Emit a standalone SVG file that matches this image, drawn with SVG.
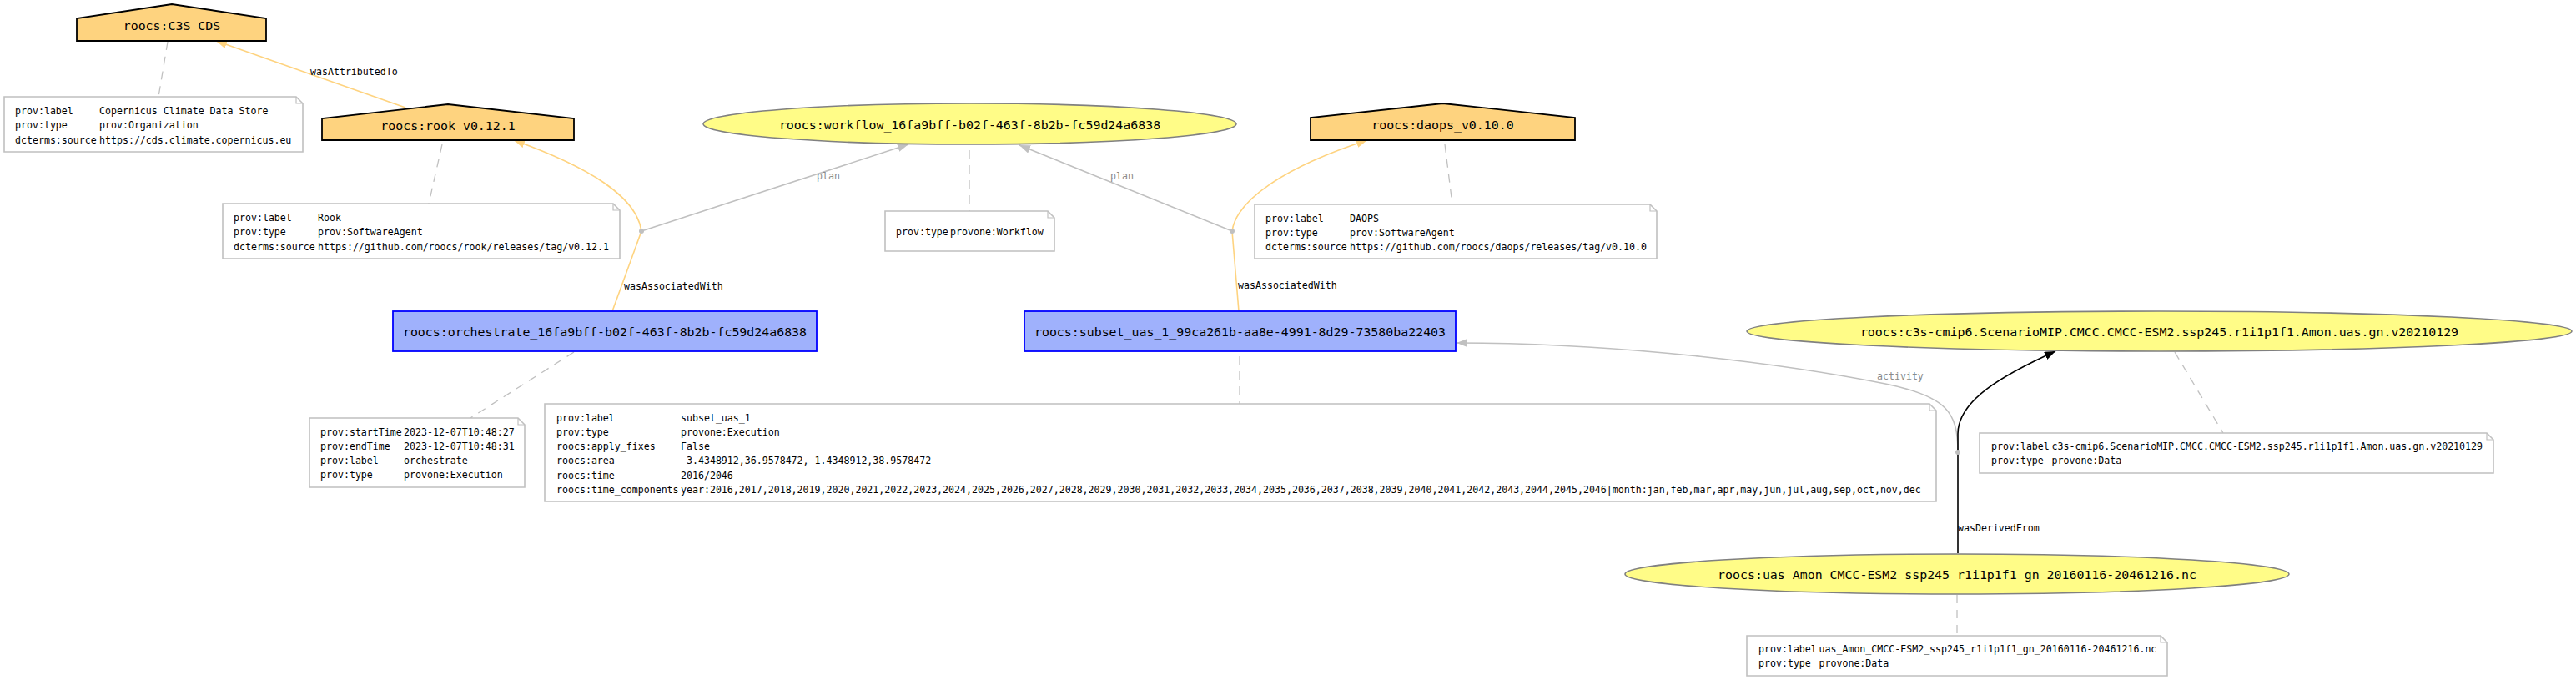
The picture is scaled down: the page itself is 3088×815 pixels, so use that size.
<svg xmlns="http://www.w3.org/2000/svg" width="3088" height="815" viewBox="0 0 3088 815">
<defs>
<style>
text{font-family:"DejaVu Sans Mono","Liberation Mono",monospace;}
.nl{font-size:14.9px;fill:#000;text-anchor:middle;}
.tx{font-size:11.6px;fill:#000;}
.el{font-size:11.6px;fill:#000;}
.elg{font-size:11.6px;fill:#8c8c8c;}
.agent{fill:#FED37F;stroke:#000;stroke-width:1.8;}
.entity{fill:#FFFC87;stroke:#808080;stroke-width:1.6;}
.activity{fill:#9FB1FC;stroke:#0000FF;stroke-width:1.8;}
.note{fill:#fff;stroke:#c0c0c0;stroke-width:1.6;}
.fold{fill:none;stroke:#c0c0c0;stroke-width:1.2;}
.ann{fill:none;stroke:#c0c0c0;stroke-width:1.3;stroke-dasharray:10,8;}
.eo{fill:none;stroke:#FED37F;stroke-width:1.6;}
.eg{fill:none;stroke:#c0c0c0;stroke-width:1.6;}
.eb{fill:none;stroke:#000;stroke-width:1.6;}
.dot{fill:#c0c0c0;}
</style>
<marker id="mO" markerUnits="userSpaceOnUse" markerWidth="14" markerHeight="11" refX="13" refY="5" orient="auto"><path d="M0,0 L13,5 L0,10 Z" fill="#FED37F"/></marker>
<marker id="mG" markerUnits="userSpaceOnUse" markerWidth="14" markerHeight="11" refX="13" refY="5" orient="auto"><path d="M0,0 L13,5 L0,10 Z" fill="#c0c0c0"/></marker>
<marker id="mB" markerUnits="userSpaceOnUse" markerWidth="14" markerHeight="11" refX="13" refY="5" orient="auto"><path d="M0,0 L13,5 L0,10 Z" fill="#000"/></marker>
</defs>
<rect width="3088" height="815" fill="#fff"/>

<g id="connectors">
<line class="ann" x1="201" y1="50" x2="190" y2="116"/>
<line class="ann" x1="530" y1="173" x2="514" y2="244"/>
<line class="ann" x1="1162" y1="180" x2="1162" y2="253"/>
<line class="ann" x1="1732" y1="173" x2="1741" y2="245"/>
<line class="ann" x1="688" y1="422" x2="564" y2="501"/>
<line class="ann" x1="1486" y1="427" x2="1486" y2="484"/>
<line class="ann" x1="2607" y1="422" x2="2665" y2="519"/>
<line class="ann" x1="2346" y1="713" x2="2346" y2="762"/>

<path class="eo" d="M486,129 L259,49" marker-end="url(#mO)"/>
<text class="el" x="372" y="90">wasAttributedTo</text>

<path class="eo" d="M734,373 L769,277"/>
<path class="eo" d="M769,277 C763,235 705,200 616,168" marker-end="url(#mO)"/>
<text class="el" x="748" y="346.5">wasAssociatedWith</text>

<path class="eg" d="M769,277 L1089,173" marker-end="url(#mG)"/>
<text class="elg" x="979" y="215">plan</text>

<path class="eo" d="M1485,373 L1477,277"/>
<path class="eo" d="M1477,277 C1482,240 1540,200 1639,168" marker-end="url(#mO)"/>
<text class="el" x="1484" y="346">wasAssociatedWith</text>

<path class="eg" d="M1477,277 L1222,174" marker-end="url(#mG)"/>
<text class="elg" x="1331" y="215">plan</text>

<path class="eg" d="M2347,542 C2347,495 2335,475 2260,460 C2150,438 1950,411 1746,411" marker-end="url(#mG)"/>
<text class="elg" x="2250" y="455">activity</text>

<path class="eb" d="M2347,663 L2347,520 C2347,480 2400,450 2464,421" marker-end="url(#mB)"/>
<text class="el" x="2347" y="637">wasDerivedFrom</text>
</g>

<g id="dot_orchestrate"><circle class="dot" cx="769" cy="277" r="3"/></g>
<g id="dot_subset"><circle class="dot" cx="1477" cy="277" r="3"/></g>
<g id="dot_derivation"><circle class="dot" cx="2347" cy="542" r="3"/></g>

<g id="n_c3s_cds">
<polygon class="agent" points="92,49 92,22 206,5 319,22 319,49"/>
<text class="nl" x="206" y="36">roocs:C3S_CDS</text>
</g>
<g id="note_c3s_cds">
<path class="note" d="M5,116 H355 L363,124 V182 H5 Z"/><path class="fold" d="M355,116 V124 H363"/>
<text class="tx" x="18" y="137">prov:label</text><text class="tx" x="119" y="137">Copernicus Climate Data Store</text>
<text class="tx" x="18" y="154.3">prov:type</text><text class="tx" x="119" y="154.3">prov:Organization</text>
<text class="tx" x="18" y="171.6">dcterms:source</text><text class="tx" x="119" y="171.6">https://cds.climate.copernicus.eu</text>
</g>

<g id="n_rook">
<polygon class="agent" points="386,168 386,142 537,125 688,142 688,168"/>
<text class="nl" x="537" y="156">roocs:rook_v0.12.1</text>
</g>
<g id="note_rook">
<path class="note" d="M267,244 H735 L743,252 V310 H267 Z"/><path class="fold" d="M735,244 V252 H743"/>
<text class="tx" x="280" y="265">prov:label</text><text class="tx" x="381" y="265">Rook</text>
<text class="tx" x="280" y="282.3">prov:type</text><text class="tx" x="381" y="282.3">prov:SoftwareAgent</text>
<text class="tx" x="280" y="299.6">dcterms:source</text><text class="tx" x="381" y="299.6">https://github.com/roocs/rook/releases/tag/v0.12.1</text>
</g>

<g id="n_workflow">
<ellipse class="entity" cx="1162.5" cy="148.5" rx="319.5" ry="24.5"/>
<text class="nl" x="1162.5" y="154.5">roocs:workflow_16fa9bff-b02f-463f-8b2b-fc59d24a6838</text>
</g>
<g id="note_workflow">
<path class="note" d="M1061,253 H1256 L1264,261 V301 H1061 Z"/><path class="fold" d="M1256,253 V261 H1264"/>
<text class="tx" x="1074" y="282">prov:type</text><text class="tx" x="1139" y="282">provone:Workflow</text>
</g>

<g id="n_daops">
<polygon class="agent" points="1571,168 1571,141 1729.5,124 1888,141 1888,168"/>
<text class="nl" x="1729.5" y="155">roocs:daops_v0.10.0</text>
</g>
<g id="note_daops">
<path class="note" d="M1504,245 H1978 L1986,253 V310 H1504 Z"/><path class="fold" d="M1978,245 V253 H1986"/>
<text class="tx" x="1517" y="265.5">prov:label</text><text class="tx" x="1618" y="265.5">DAOPS</text>
<text class="tx" x="1517" y="282.8">prov:type</text><text class="tx" x="1618" y="282.8">prov:SoftwareAgent</text>
<text class="tx" x="1517" y="300.1">dcterms:source</text><text class="tx" x="1618" y="300.1">https://github.com/roocs/daops/releases/tag/v0.10.0</text>
</g>

<g id="n_orchestrate">
<rect class="activity" x="471" y="373" width="508" height="48"/>
<text class="nl" x="725" y="402.5">roocs:orchestrate_16fa9bff-b02f-463f-8b2b-fc59d24a6838</text>
</g>
<g id="note_orchestrate">
<path class="note" d="M371,501 H621 L629,509 V584 H371 Z"/><path class="fold" d="M621,501 V509 H629"/>
<text class="tx" x="384" y="521.5">prov:startTime</text><text class="tx" x="484" y="521.5">2023-12-07T10:48:27</text>
<text class="tx" x="384" y="538.8">prov:endTime</text><text class="tx" x="484" y="538.8">2023-12-07T10:48:31</text>
<text class="tx" x="384" y="556.1">prov:label</text><text class="tx" x="484" y="556.1">orchestrate</text>
<text class="tx" x="384" y="573.4">prov:type</text><text class="tx" x="484" y="573.4">provone:Execution</text>
</g>

<g id="n_subset">
<rect class="activity" x="1228" y="373" width="517" height="48"/>
<text class="nl" x="1486.5" y="402.5">roocs:subset_uas_1_99ca261b-aa8e-4991-8d29-73580ba22403</text>
</g>
<g id="note_subset">
<path class="note" d="M653,484 H2313 L2321,492 V601 H653 Z"/><path class="fold" d="M2313,484 V492 H2321"/>
<text class="tx" x="667" y="504.5">prov:label</text><text class="tx" x="816" y="504.5">subset_uas_1</text>
<text class="tx" x="667" y="521.8">prov:type</text><text class="tx" x="816" y="521.8">provone:Execution</text>
<text class="tx" x="667" y="539.1">roocs:apply_fixes</text><text class="tx" x="816" y="539.1">False</text>
<text class="tx" x="667" y="556.4">roocs:area</text><text class="tx" x="816" y="556.4">-3.4348912,36.9578472,-1.4348912,38.9578472</text>
<text class="tx" x="667" y="573.7">roocs:time</text><text class="tx" x="816" y="573.7">2016/2046</text>
<text class="tx" x="667" y="591">roocs:time_components</text><text class="tx" x="816" y="591">year:2016,2017,2018,2019,2020,2021,2022,2023,2024,2025,2026,2027,2028,2029,2030,2031,2032,2033,2034,2035,2036,2037,2038,2039,2040,2041,2042,2043,2044,2045,2046|month:jan,feb,mar,apr,may,jun,jul,aug,sep,oct,nov,dec</text>
</g>

<g id="n_c3s_dataset">
<ellipse class="entity" cx="2588.5" cy="397" rx="494.5" ry="24"/>
<text class="nl" x="2588.5" y="402.5">roocs:c3s-cmip6.ScenarioMIP.CMCC.CMCC-ESM2.ssp245.r1i1p1f1.Amon.uas.gn.v20210129</text>
</g>
<g id="note_c3s_dataset">
<path class="note" d="M2373,519 H2981 L2989,527 V567 H2373 Z"/><path class="fold" d="M2981,519 V527 H2989"/>
<text class="tx" x="2387" y="538.5">prov:label</text><text class="tx" x="2459.5" y="538.5">c3s-cmip6.ScenarioMIP.CMCC.CMCC-ESM2.ssp245.r1i1p1f1.Amon.uas.gn.v20210129</text>
<text class="tx" x="2387" y="555.8">prov:type</text><text class="tx" x="2459.5" y="555.8">provone:Data</text>
</g>

<g id="n_uas_file">
<ellipse class="entity" cx="2346" cy="688" rx="398" ry="24"/>
<text class="nl" x="2346" y="693.5">roocs:uas_Amon_CMCC-ESM2_ssp245_r1i1p1f1_gn_20160116-20461216.nc</text>
</g>
<g id="note_uas_file">
<path class="note" d="M2094,762 H2590 L2598,770 V810 H2094 Z"/><path class="fold" d="M2590,762 V770 H2598"/>
<text class="tx" x="2108" y="782">prov:label</text><text class="tx" x="2180.5" y="782">uas_Amon_CMCC-ESM2_ssp245_r1i1p1f1_gn_20160116-20461216.nc</text>
<text class="tx" x="2108" y="799.3">prov:type</text><text class="tx" x="2180.5" y="799.3">provone:Data</text>
</g>
</svg>
